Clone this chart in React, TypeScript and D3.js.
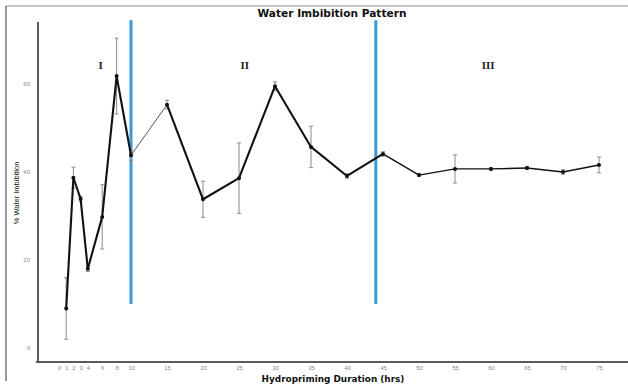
import React, { useEffect, useRef } from "react";
import * as d3 from "d3";

// imbibition % vs hydropriming hours
const hours = [1, 2, 3, 4, 6, 8, 10, 15, 20, 25, 30, 35, 40, 45, 50, 55, 60, 65, 70, 75];
const imbibition = [9, 38.7, 33.9, 18, 29.8, 61.8, 43.8, 55.3, 33.8, 38.6, 59.5, 45.7, 39.1, 44.1, 39.3, 40.7, 40.7, 40.9, 40, 41.6];
const errors = [7, 2.4, 0.6, 0.6, 7.3, 8.6, 1.2, 1, 4.1, 8, 1, 4.7, 0.5, 0.5, 0.3, 3.2, 0.3, 0.3, 0.5, 1.8];

const xTicks = [0, 1, 2, 3, 4, 6, 8, 10, 15, 20, 25, 30, 35, 40, 45, 50, 55, 60, 65, 70, 75];
const yTicks = [0, 20, 40, 60];

const phaseBreaks = [10, 44];
const phaseRange = [10, 74.5];
const phaseLabels = ["I", "II", "III"];
const phaseLabelHours = [5.8, 25.8, 59.6];

const W = 628;
const H = 385;

function ImbibitionChart() {
  const svgRef = useRef<SVGSVGElement>(null);

  useEffect(() => {
    const svg = d3.select(svgRef.current);
    svg.selectAll("*").remove();

    const x = d3.scaleLinear().domain([0, 75]).range([59, 599]);
    const y = d3.scaleLinear().domain([0, 60]).range([348, 84]);

    // frame
    svg.append("line").attr("x1", 6).attr("x2", W).attr("y1", 6).attr("y2", 6)
      .attr("stroke", "#8a8a8a").attr("stroke-width", 1);
    svg.append("line").attr("x1", 6).attr("x2", 6).attr("y1", 6).attr("y2", 381)
      .attr("stroke", "#555").attr("stroke-width", 1.2);

    // axes
    const xAxis = d3.axisBottom(x).tickValues(xTicks).tickSize(0).tickPadding(4)
      .tickFormat(d3.format("d"));
    const gx = svg.append("g").attr("transform", "translate(0,362)").call(xAxis);
    gx.select(".domain").remove();
    gx.selectAll("text").attr("font-size", 6).attr("fill", "#888")
      .attr("font-family", "Liberation Sans, Arial, sans-serif");

    const yAxis = d3.axisLeft(y).tickValues(yTicks).tickSize(0).tickPadding(8)
      .tickFormat(d3.format("d"));
    const gy = svg.append("g").attr("transform", "translate(38,0)").call(yAxis);
    gy.select(".domain").remove();
    gy.selectAll("text").attr("font-size", 6).attr("fill", "#888")
      .attr("font-family", "Liberation Sans, Arial, sans-serif");

    svg.append("line").attr("x1", 36).attr("x2", W).attr("y1", 362).attr("y2", 362)
      .attr("stroke", "#5a5a5a").attr("stroke-width", 2);
    svg.append("line").attr("x1", 38).attr("x2", 38).attr("y1", 22).attr("y2", 363)
      .attr("stroke", "#5a5a5a").attr("stroke-width", 2);

    // phase separators
    svg.selectAll(".phase").data(phaseBreaks).join("line")
      .attr("x1", d => x(d)).attr("x2", d => x(d))
      .attr("y1", y(phaseRange[1])).attr("y2", y(phaseRange[0]))
      .attr("stroke", "#3a9ad8").attr("stroke-width", 3);

    svg.selectAll(".plabel").data(phaseLabels).join("text")
      .attr("x", (d, i) => x(phaseLabelHours[i]))
      .attr("y", y(63.4))
      .attr("text-anchor", "middle")
      .attr("font-family", "Liberation Serif, Times New Roman, serif")
      .attr("font-weight", "bold").attr("font-size", 11).attr("fill", "#222")
      .text(d => d);

    // error bars
    const eb = svg.append("g").attr("stroke", "#8a8a8a").attr("stroke-width", 1);
    hours.forEach((h, i) => {
      const lo = y(imbibition[i] - errors[i]);
      const hi = y(imbibition[i] + errors[i]);
      eb.append("line").attr("x1", x(h)).attr("x2", x(h)).attr("y1", lo).attr("y2", hi);
      eb.append("line").attr("x1", x(h) - 2).attr("x2", x(h) + 2).attr("y1", lo).attr("y2", lo);
      eb.append("line").attr("x1", x(h) - 2).attr("x2", x(h) + 2).attr("y1", hi).attr("y2", hi);
    });

    // line, drawn per segment since the weight varies in the original
    const pts = hours.map((h, i) => [h, imbibition[i]] as [number, number]);
    const seg = d3.line<[number, number]>().x(d => x(d[0])).y(d => y(d[1]));
    d3.pairs(pts).forEach((p, i) => {
      const thin = i === 6;
      svg.append("path").attr("d", seg(p))
        .attr("fill", "none")
        .attr("stroke", thin ? "#555" : "#111")
        .attr("stroke-width", thin ? 1 : i >= 13 ? 1.4 : 2.1)
        .attr("stroke-linejoin", "round");
    });

    svg.selectAll(".pt").data(pts).join("circle")
      .attr("cx", d => x(d[0])).attr("cy", d => y(d[1])).attr("r", 2)
      .attr("fill", "#111");

    // titles
    svg.append("text").attr("x", 332).attr("y", 17).attr("text-anchor", "middle")
      .attr("font-family", "DejaVu Sans, Verdana, sans-serif")
      .attr("font-weight", "bold").attr("font-size", 10.6).attr("fill", "#111")
      .text("Water Imbibition Pattern");
    svg.append("text").attr("x", 333).attr("y", 382).attr("text-anchor", "middle")
      .attr("font-family", "DejaVu Sans, Verdana, sans-serif")
      .attr("font-weight", "bold").attr("font-size", 8.9).attr("fill", "#111")
      .text("Hydropriming Duration (hrs)");
    svg.append("text").attr("transform", "translate(19,193) rotate(-90)")
      .attr("text-anchor", "middle")
      .attr("font-family", "Liberation Sans, Arial, sans-serif")
      .attr("font-size", 7.5).attr("fill", "#111")
      .text("% Water Imbibition");
  }, []);

  return (
    <svg ref={svgRef} width={W} height={H}
      style={{ position: "absolute", left: 0, top: 0, background: "#fff" }} />
  );
}

export default function App() {
  return <ImbibitionChart />;
}
